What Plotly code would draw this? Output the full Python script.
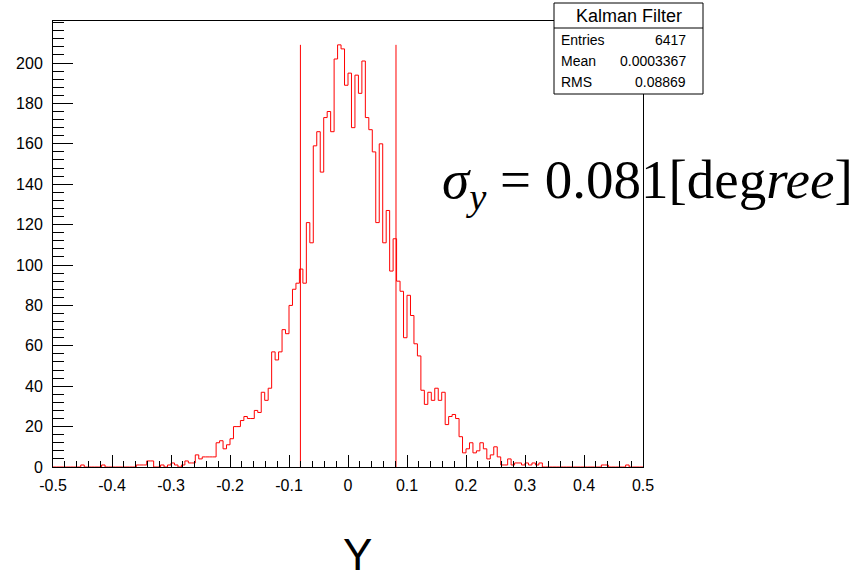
import numpy as np
import plotly.graph_objects as go

# Histogram of the Kalman-filter residual in Y (170 equal bins over [-0.5, 0.5])
x_min, x_max = -0.5, 0.5
counts = [
    0, 0, 0, 0, 0, 0, 0, 0, 1, 0,
    0, 0, 0, 0, 1, 0, 0, 0, 0, 0,
    0, 0, 0, 0, 1, 1, 1, 3, 3, 0,
    0, 1, 0, 1, 2, 1, 0, 1, 3, 2,
    2, 6, 4, 5, 5, 5, 5, 12, 13, 9,
    11, 14, 20, 20, 23, 25, 24, 24, 28, 27,
    37, 33, 39, 57, 53, 57, 68, 66, 80, 88,
    91, 98, 91, 121, 111, 159, 166, 146, 173, 176,
    166, 202, 209, 207, 189, 195, 168, 194, 185, 201,
    173, 167, 156, 121, 160, 111, 127, 97, 113, 92,
    87, 64, 85, 75, 61, 55, 38, 31, 37, 33,
    39, 33, 37, 21, 25, 26, 24, 15, 7, 9,
    12, 7, 8, 12, 9, 4, 6, 10, 5, 1,
    1, 4, 1, 2, 2, 1, 2, 1, 2, 1,
    2, 0, 0, 0, 0, 0, 0, 0, 0, 0,
    0, 0, 0, 0, 0, 0, 0, 0, 1, 1,
    0, 0, 0, 0, 0, 1, 0, 0, 0, 0,
]

# Statistics shown in the stats box
hist_title = "Kalman Filter"
entries = 6417
mean = 0.0003367
rms = 0.08869
sigma = 0.081

x_tick_vals = [-0.5, -0.4, -0.3, -0.2, -0.1, 0.0, 0.1, 0.2, 0.3, 0.4, 0.5]
x_tick_text = ["-0.5", "-0.4", "-0.3", "-0.2", "-0.1", "0", "0.1", "0.2", "0.3", "0.4", "0.5"]
y_tick_vals = [0, 20, 40, 60, 80, 100, 120, 140, 160, 180, 200]
y_tick_text = [str(v) for v in y_tick_vals]

x_title = "Y"

# ---------------------------------------------------------------- geometry
W, H = 861, 580
PL, PR, PT, PB = 53, 643, 21, 467          # frame in pixels


def px(x):
    return (x - PL) / (PR - PL)


def py(y):
    return (PB - y) / (PB - PT)


n_bins = len(counts)
edges = np.linspace(x_min, x_max, n_bins + 1)
step_x = list(edges)
step_y = list(counts) + [counts[-1]]
peak = max(counts)
y_top = peak * 1.0565

fig = go.Figure()

# histogram outline
fig.add_trace(go.Scatter(
    x=step_x, y=step_y, mode="lines",
    line=dict(color="#ff0000", width=1, shape="hv"),
    hoverinfo="skip", showlegend=False,
))

# mean +/- sigma markers
lo, hi = mean - sigma, mean + sigma
fig.add_trace(go.Scatter(
    x=[lo, lo, None, hi, hi], y=[0, peak, None, 0, peak], mode="lines",
    line=dict(color="#ff0000", width=1),
    hoverinfo="skip", showlegend=False,
))

axis_font = dict(family="Liberation Sans, Arial, sans-serif", size=16, color="black")

fig.update_xaxes(
    range=[x_min, x_max], showgrid=False, zeroline=False,
    showline=True, linecolor="black", linewidth=1, mirror=True,
    tickmode="array", tickvals=x_tick_vals, ticktext=x_tick_text,
    ticks="inside", ticklen=12, tickwidth=1, tickcolor="black",
    minor=dict(ticks="inside", ticklen=6, tickwidth=1, tickcolor="black",
               tick0=x_min, dtick=0.02, showgrid=False),
    tickfont=axis_font, ticklabelstandoff=4,
)
fig.update_yaxes(
    range=[0, y_top], showgrid=False, zeroline=False,
    showline=True, linecolor="black", linewidth=1, mirror=True,
    tickmode="array", tickvals=y_tick_vals, ticktext=y_tick_text,
    ticks="inside", ticklen=20, tickwidth=1, tickcolor="black",
    minor=dict(ticks="inside", ticklen=11, tickwidth=1, tickcolor="black",
               tick0=0, dtick=4, showgrid=False),
    tickfont=axis_font, ticklabelstandoff=6,
)

# stats box
bx0, bx1, by0, by1, bsep = 554, 703, 3, 94, 28
fig.add_shape(type="rect", xref="paper", yref="paper",
              x0=px(bx0), x1=px(bx1), y0=py(by1), y1=py(by0),
              line=dict(color="black", width=1), fillcolor="white", layer="above")
fig.add_shape(type="line", xref="paper", yref="paper",
              x0=px(bx0), x1=px(bx1), y0=py(bsep), y1=py(bsep),
              line=dict(color="black", width=1), layer="above")

annotations = [
    dict(x=px((bx0 + bx1) / 2), y=py(16), text=hist_title, xanchor="center", yanchor="middle",
         font=dict(family="Liberation Sans, Arial, sans-serif", size=18, color="black")),
]
rows = [("Entries", f"{entries}", 40.5), ("Mean", f"{mean:.7f}", 61), ("RMS", f"{rms:.5f}", 82)]
for label, value, yy in rows:
    annotations.append(dict(x=px(bx0 + 5), y=py(yy), text=label, xanchor="left", yanchor="middle",
                            font=dict(family="Liberation Sans, Arial, sans-serif", size=14, color="black")))
    annotations.append(dict(x=px(bx1 - 15), y=py(yy), text=value, xanchor="right", yanchor="middle",
                            font=dict(family="Liberation Sans, Arial, sans-serif", size=14, color="black")))

# resolution label
annotations.append(dict(
    x=px(440), y=py(184), xanchor="left", yanchor="middle",
    text=f"<i>σ</i><sub><i>y</i></sub> = {sigma}[deg<i>ree</i>]",
    font=dict(family="Liberation Serif, Times New Roman, serif", size=55, color="black"),
))

# axis title
annotations.append(dict(
    x=px(357), y=py(554), xanchor="center", yanchor="middle", text=x_title,
    font=dict(family="Liberation Sans, Arial, sans-serif", size=44, color="black"),
))

for a in annotations:
    a.update(xref="paper", yref="paper", showarrow=False)

fig.update_layout(
    width=W, height=H,
    margin=dict(l=PL, r=W - PR, t=PT, b=H - PB, pad=0),
    paper_bgcolor="white", plot_bgcolor="white",
    showlegend=False, annotations=annotations,
)

fig.write_html("out.html")
